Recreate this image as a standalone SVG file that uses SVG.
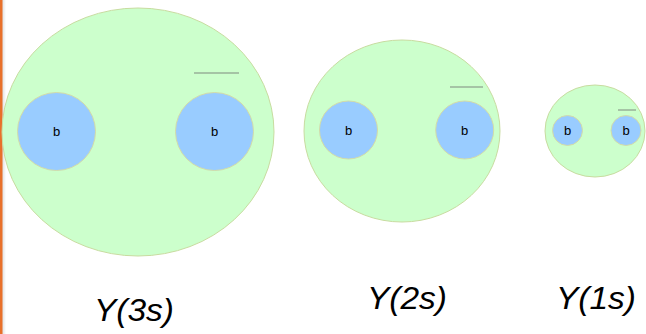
<svg xmlns="http://www.w3.org/2000/svg" width="646" height="334" viewBox="0 0 646 334">
<defs>
<linearGradient id="edge" x1="0" x2="1" y1="0" y2="0">
<stop offset="0" stop-color="#dddddd"/>
<stop offset="1" stop-color="#ffffff"/>
</linearGradient>
</defs>
<style>
.outer{fill:#ccffcc;stroke:#c8dca0;stroke-width:1}
.inner{fill:#99ccff;stroke:#d4dca8;stroke-width:1}
.bar{stroke:#99b099;stroke-width:1.5}
.b{font-family:"Liberation Sans",Arial,sans-serif;font-size:13px;fill:#000;text-anchor:middle}
.lbl{font-family:"Liberation Sans",Arial,sans-serif;font-size:31px;font-style:italic;fill:#000}
</style>
<rect width="646" height="334" fill="#ffffff"/>
<rect x="2" y="0" width="4" height="334" fill="url(#edge)"/>
<rect x="0" y="0" width="2.5" height="334" fill="#e8702a"/>
<g id="y3s">
<ellipse class="outer" cx="138" cy="132" rx="136" ry="124"/>
<line class="bar" x1="194" y1="73" x2="239" y2="73"/>
<g id="y3s-b1"><circle class="inner" cx="56.5" cy="131.5" r="39"/><text class="b" x="56.5" y="136">b</text></g>
<g id="y3s-b2"><circle class="inner" cx="214.5" cy="131.5" r="39"/><text class="b" x="214.5" y="136">b</text></g>
</g>
<g id="y2s">
<ellipse class="outer" cx="402" cy="131" rx="98" ry="91"/>
<line class="bar" x1="450" y1="87" x2="483" y2="87"/>
<g id="y2s-b1"><circle class="inner" cx="348.5" cy="130" r="29"/><text class="b" x="348.5" y="134.5">b</text></g>
<g id="y2s-b2"><circle class="inner" cx="464.7" cy="130" r="29"/><text class="b" x="464.7" y="134.5">b</text></g>
</g>
<g id="y1s">
<ellipse class="outer" cx="595" cy="131" rx="50" ry="46"/>
<line class="bar" x1="618" y1="110" x2="636" y2="110"/>
<g id="y1s-b1"><circle class="inner" cx="567.5" cy="130.5" r="15"/><text class="b" x="567.5" y="135">b</text></g>
<g id="y1s-b2"><circle class="inner" cx="626" cy="130.5" r="15"/><text class="b" x="626" y="135">b</text></g>
</g>
<g id="labels">
<text class="lbl" transform="translate(94,321) scale(1.08,1)">Y(3s)</text>
<text class="lbl" transform="translate(367,309) scale(1.08,1)">Y(2s)</text>
<text class="lbl" transform="translate(556,309) scale(1.08,1)">Y(1s)</text>
</g>
<g id="connectors"/>
</svg>
